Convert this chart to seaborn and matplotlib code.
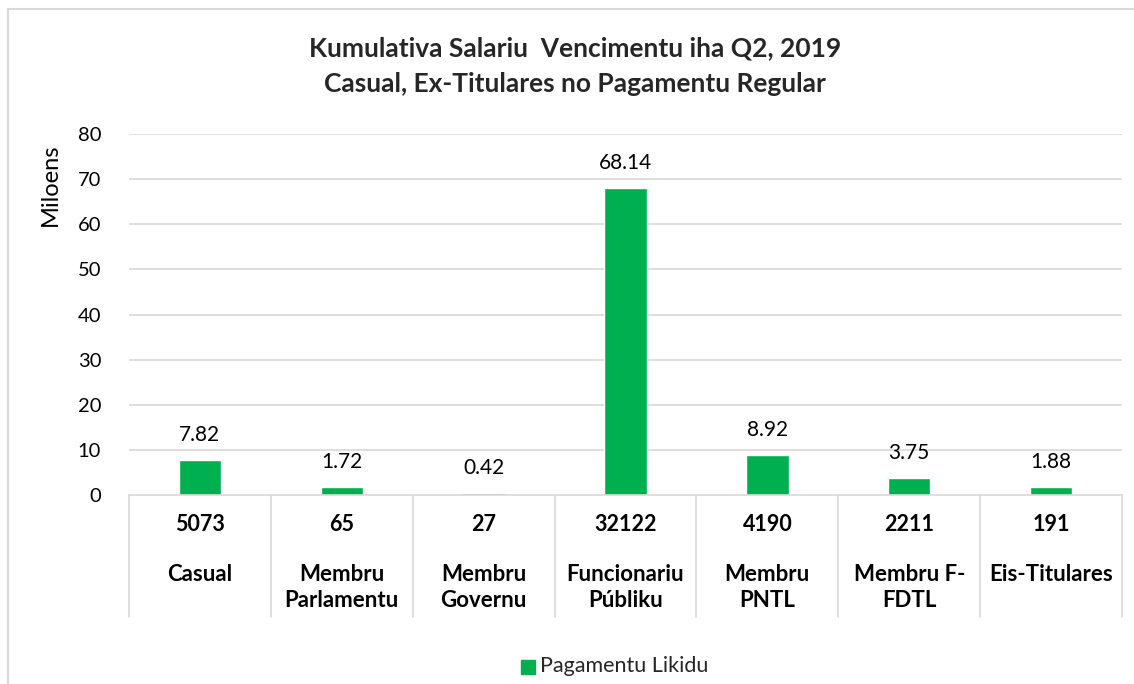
import matplotlib
matplotlib.use("Agg")
import matplotlib.pyplot as plt
import seaborn as sns
import pandas as pd
from matplotlib.patches import Rectangle

# dados
categories = ["Casual", "Membru\nParlamentu", "Membru\nGovernu", "Funcionariu\nPúbliku",
              "Membru\nPNTL", "Membru F-\nFDTL", "Eis-Titulares"]
counts = [5073, 65, 27, 32122, 4190, 2211, 191]
values = [7.82, 1.72, 0.42, 68.14, 8.92, 3.75, 1.88]
value_labels = ["7.82", "1.72", "0.42", "68.14", "8.92", "3.75", "1.88"]
yticks = [0, 10, 20, 30, 40, 50, 60, 70, 80]

df = pd.DataFrame({"cat": categories, "val": values})

sns.set_theme(style="white")
plt.rcParams['font.family'] = ['Lato', 'DejaVu Sans']

W, H = 1134, 684
fig = plt.figure(figsize=(W / 100, H / 100), dpi=100)
ax = fig.add_axes([129 / W, 189 / H, (1122 - 129) / W, (495 - 134) / H])

green = "#00B050"
grid_c = "#D9D9D9"

sns.barplot(data=df, x="cat", y="val", color=green, width=0.3, ax=ax, saturation=1)

ax.set_ylim(0, 80)
ax.set_xlim(-0.5, len(categories) - 0.5)
ax.set_yticks(yticks)
ax.set_yticklabels([str(t) for t in yticks], fontsize=14.5, color="#000000")
ax.tick_params(axis="y", length=0, pad=20)
ax.set_xticks([])
ax.set_xlabel("")
for t in yticks[1:]:
    ax.axhline(t, color=grid_c, lw=1.2, zorder=0)
for s in ["top", "right", "left"]:
    ax.spines[s].set_visible(False)
ax.spines["bottom"].set_color(grid_c)
ax.spines["bottom"].set_linewidth(1.2)

ax.set_ylabel("Miloens", fontsize=17, color="#000000")
ax.yaxis.set_label_coords(-0.069, 0.86)

# rótulos dos valores
for i, v in enumerate(values):
    ax.annotate(value_labels[i], (i, v), xytext=(0, 18), textcoords="offset points",
                ha="center", va="center", fontsize=15, color="#000000")

# tabela em baixo
tr = ax.get_xaxis_transform()
for b in range(len(categories) + 1):
    ax.plot([b - 0.5, b - 0.5], [0, -0.338], transform=tr, color=grid_c, lw=1.2, clip_on=False)
for i in range(len(categories)):
    ax.text(i, -0.083, str(counts[i]), transform=tr, ha="center", va="center",
            fontsize=15.5, fontweight="bold", color="#000000")
    ax.text(i, -0.19, categories[i], transform=tr, ha="center", va="top",
            fontsize=16, fontweight="bold", color="#000000", linespacing=1.3)

# titulo
fig.text(575 / W, 1 - 48 / H, "Kumulativa Salariu  Vencimentu iha Q2, 2019",
         ha="center", va="center", fontsize=19, fontweight="bold")
fig.text(575 / W, 1 - 84 / H, "Casual, Ex-Titulares no Pagamentu Regular",
         ha="center", va="center", fontsize=19, fontweight="bold")

# legenda
fig.patches.append(Rectangle((521 / W, 1 - 674 / H), 14 / W, 14 / H,
                             transform=fig.transFigure, color=green))
fig.text(540 / W, 1 - 666 / H, "Pagamentu Likidu", ha="left", va="center", fontsize=15.5)

# moldura
fig.patches.append(Rectangle((8 / W, -0.05), 1.2, 1 - 9 / H + 0.05, transform=fig.transFigure,
                             fill=False, edgecolor=grid_c, lw=1.5))

fig.savefig("out.png", dpi=100)
